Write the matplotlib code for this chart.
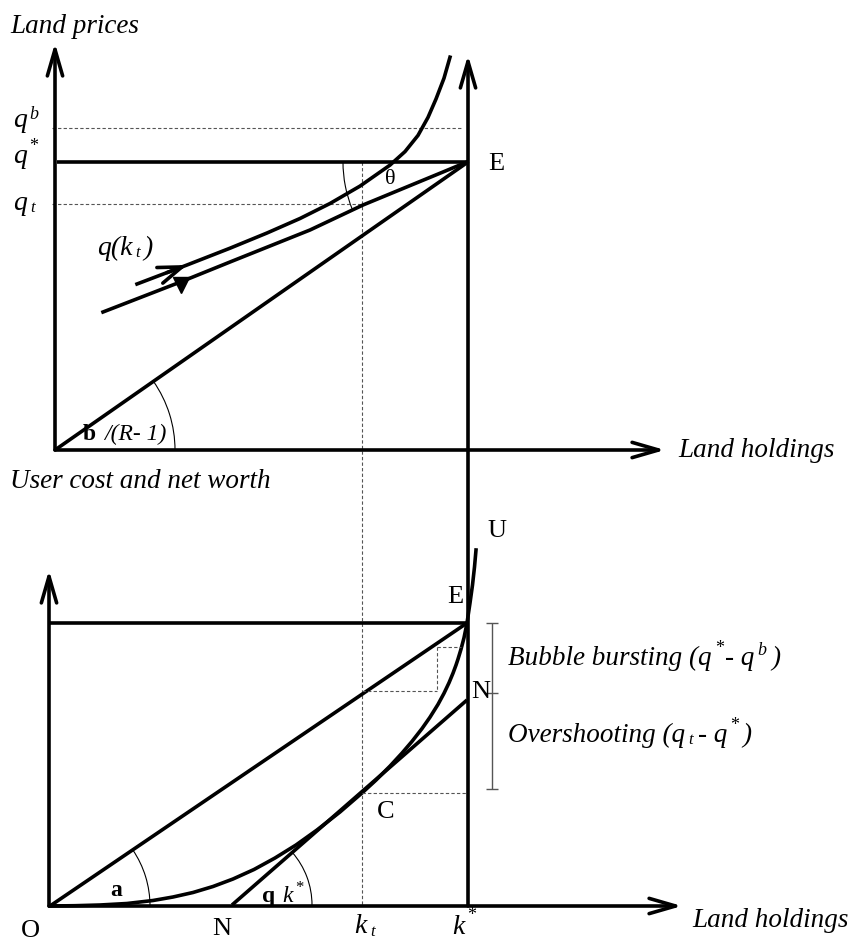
import numpy as np
import matplotlib
matplotlib.use("Agg")
import matplotlib.pyplot as plt
from matplotlib.patches import Arc

W, H = 851, 941
INK = "black"; GREY = "#555555"
LW = 2.6; THIN = 0.8
LAB = 19.5  # italic captions
plt.rcParams.update({"font.family": ["Liberation Serif", "DejaVu Serif"], "font.size": 17,
                     "text.color": INK})

# ---- geometry of the diagram, in pixels of the original drawing (y grows downward)
O_top = (55, 450); E_top = (468, 162)
q_b, q_star, q_t = 128, 162, 204
k_t, k_star = 362, 468
O_bot = (50, 906); E_bot = (467, 623)
N_bot = (232, 905); N_right = (467, 700)
C_pt = (362, 793)
box_x, box_top, box_bot = 437, 647, 691
curve_top_x = 461

# q(k_t) paths in the upper panel
upper_x = [137, 187, 230, 267, 300, 330, 360, 390, 405, 418, 428, 436, 444, 450]
upper_y = [284, 265, 248.2, 233, 218.5, 203.5, 186.1, 165.1, 151.6, 135.4, 117.4, 99, 78.2, 57.2]
lower_x = [103, 183, 230, 310, 363, 443, 467]
lower_y = [312, 281, 262, 230, 205, 172, 162]

# user-cost curve O -> C -> E -> U in the lower panel
uc_x = [50, 75, 100, 127, 153, 173, 193, 213, 233, 254, 275, 296, 317, 340, 362,
        376, 390, 402, 412, 422, 430, 438, 444, 449, 453, 456, 458, 461, 464, 467,
        470, 472.5, 474.5, 476]
uc_y = [906, 905.7, 905, 903.5, 900.5, 897, 892.5, 886.5, 879, 869.5, 858, 845, 830, 812, 793,
        780.1, 766.1, 753.1, 741.4, 728.6, 717.2, 704.4, 693.3, 682.8, 673.2, 665.1, 659.1, 649.2, 637.8, 623,
        603, 585, 567, 550]

fig = plt.figure(figsize=(W / 100, H / 100), dpi=100)
ax = fig.add_axes([0, 0, 1, 1]); ax.set_xlim(0, W); ax.set_ylim(H, 0); ax.axis("off")


def seg(x0, y0, x1, y1, lw=LW, color=INK):
    ax.plot([x0, x1], [y0, y1], color=color, lw=lw, solid_capstyle="butt")


def dashed(x0, y0, x1, y1):
    ax.plot([x0, x1], [y0, y1], color=GREY, lw=THIN, ls=(0, (3, 2)))


def arrow(x0, y0, x1, y1):
    ax.annotate("", xy=(x1, y1), xytext=(x0, y0),
                arrowprops=dict(arrowstyle="->,head_length=1.9,head_width=0.55", lw=LW, color=INK,
                                shrinkA=0, shrinkB=0, mutation_scale=10))


def arc(c, r, a0, a1):
    # angles measured upward from the +x axis (the y axis is flipped)
    ax.add_patch(Arc(c, 2 * r, 2 * r, theta1=-a1, theta2=-a0, lw=THIN, color=INK))


def ang(c, p):
    return np.degrees(np.arctan2(c[1] - p[1], p[0] - c[0])) % 360


def rich(x, y, parts):
    """parts: (text, size, dx px, dy px, style, weight); dy is upward."""
    prev = None
    for s, fs, dx, dy, st, wt in parts:
        if prev is None:
            prev = ax.text(x + dx, y - dy, s, fontsize=fs, fontstyle=st, fontweight=wt,
                           ha="left", va="baseline")
        else:
            prev = ax.annotate(s, xy=(1, y), xycoords=(prev, "data"), xytext=(dx * 0.72, dy * 0.72),
                               textcoords="offset points", fontsize=fs, fontstyle=st, fontweight=wt,
                               ha="left", va="baseline")
    return prev


# ---------------- upper panel
arrow(O_top[0], O_top[1], O_top[0], 43)
arrow(O_top[0], O_top[1], 665, O_top[1])
arrow(k_star, O_bot[1], k_star, 55)
dashed(52, q_b, 463, q_b)
dashed(52, q_t, k_t, q_t)
dashed(k_t, q_star, k_t, O_bot[1])
seg(O_top[0] + 2, q_star, E_top[0], q_star)
seg(O_top[0], O_top[1], E_top[0], E_top[1])
ax.plot(upper_x, upper_y, color=INK, lw=LW, solid_joinstyle="round")
ax.plot(lower_x, lower_y, color=INK, lw=LW, solid_joinstyle="round")
ax.annotate("", xy=(upper_x[1], upper_y[1]), xytext=(upper_x[0] + 30, upper_y[0] - 11.4),
            arrowprops=dict(arrowstyle="->,head_length=1.7,head_width=0.6", lw=LW, color=INK,
                            shrinkA=0, shrinkB=0, mutation_scale=10))
ax.plot(lower_x[1] - 2, lower_y[1] + 4, marker="v", ms=11, color=INK, mec=INK)
arc(O_top, 120, 0, ang(O_top, E_top))
arc(E_top, 125, 180, ang(E_top, (lower_x[4], lower_y[4])))

ax.text(10, 33, "Land prices", fontsize=LAB, fontstyle="italic")
ax.text(678, 457, "Land holdings", fontsize=LAB, fontstyle="italic")
rich(13, 127, [("q", 20, 0, 0, "italic", "normal"), ("b", 13, 2, 8, "italic", "normal")])
rich(13, 163, [("q", 20, 0, 0, "italic", "normal"), ("*", 13, 2, 12, "normal", "normal")])
rich(13, 210, [("q", 20, 0, 0, "italic", "normal"), ("t", 12, 3, -2, "italic", "normal")])
rich(97, 255, [("q(k", 20, 0, 0, "italic", "normal"), ("t", 12, 3, -2, "italic", "normal"),
               (")", 20, 3, 0, "italic", "normal")])
rich(83, 440, [("b", 17, 0, 0, "normal", "bold"), ("/(R- 1)", 17, 8, 0, "italic", "normal")])
ax.text(488, 170, "E", fontsize=19)
ax.text(390, 179, "θ", fontsize=16, ha="center", va="center")

# ---------------- lower panel
arrow(O_bot[0] - 1, O_bot[1], O_bot[0] - 1, 570)
arrow(O_bot[0] - 1, O_bot[1], 682, O_bot[1])
seg(O_bot[0] - 1, E_bot[1], E_bot[0], E_bot[1])
seg(O_bot[0], O_bot[1], E_bot[0], E_bot[1])
seg(N_bot[0], N_bot[1], N_right[0], N_right[1])
ax.plot(uc_x, uc_y, color=INK, lw=LW, solid_joinstyle="round")
dashed(k_t, C_pt[1], k_star, C_pt[1])
dashed(k_t, box_bot, box_x, box_bot)
dashed(box_x, box_top, box_x, box_bot)
dashed(box_x, box_top, curve_top_x, box_top)
arc(O_bot, 100, 0, ang(O_bot, E_bot))
arc(N_bot, 80, 0, ang(N_bot, N_right))

# bracket
seg(492, E_bot[1], 492, 789, lw=1.0, color=GREY)
for yy in (E_bot[1], 789):
    seg(486, yy, 498, yy, lw=1.0, color=GREY)
seg(484, 693, 498, 693, lw=1.0, color=GREY)

ax.text(10, 488, "User cost and net worth", fontsize=LAB, fontstyle="italic")
ax.text(692, 927, "Land holdings", fontsize=LAB, fontstyle="italic")
ax.text(487, 537, "U", fontsize=19)
ax.text(447, 603, "E", fontsize=19)
ax.text(471, 698, "N", fontsize=19)
ax.text(377, 818, "C", fontsize=19)
ax.text(21, 937, "O", fontsize=19)
ax.text(212, 935, "N", fontsize=19)
rich(110, 896, [("a", 17, 0, 0, "normal", "bold")])
rich(262, 902, [("q", 17, 0, 0, "normal", "bold"), ("k", 17, 7, 0, "italic", "normal"),
                ("*", 12, 3, 10, "normal", "normal")])
rich(354, 933, [("k", 20, 0, 0, "italic", "normal"), ("t", 12, 4, -3, "italic", "normal")])
rich(452, 934, [("k", 20, 0, 0, "italic", "normal"), ("*", 13, 3, 14, "normal", "normal")])
rich(508, 665, [("Bubble bursting (q", LAB, 0, 0, "italic", "normal"), ("*", 13, 3, 12, "normal", "normal"),
                ("- q", LAB, 1, 0, "italic", "normal"), ("b", 13, 3, 10, "italic", "normal"),
                (")", LAB, 5, 0, "italic", "normal")])
rich(508, 742, [("Overshooting (q", LAB, 0, 0, "italic", "normal"), ("t", 12, 3, -2, "italic", "normal"),
                ("- q", LAB, 5, 0, "italic", "normal"), ("*", 13, 3, 12, "normal", "normal"),
                (")", LAB, 3, 0, "italic", "normal")])

fig.savefig("out.png", dpi=100)
